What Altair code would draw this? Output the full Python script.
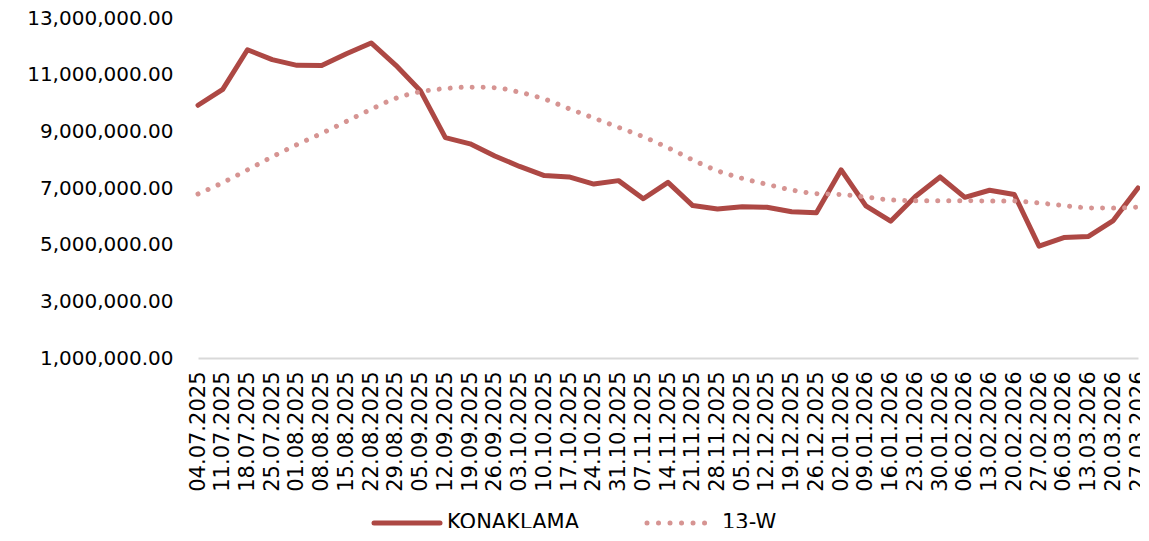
import altair as alt
import pandas as pd

dates = ["04.07.2025", "11.07.2025", "18.07.2025", "25.07.2025", "01.08.2025", "08.08.2025",
         "15.08.2025", "22.08.2025", "29.08.2025", "05.09.2025", "12.09.2025", "19.09.2025",
         "26.09.2025", "03.10.2025", "10.10.2025", "17.10.2025", "24.10.2025", "31.10.2025",
         "07.11.2025", "14.11.2025", "21.11.2025", "28.11.2025", "05.12.2025", "12.12.2025",
         "19.12.2025", "26.12.2025", "02.01.2026", "09.01.2026", "16.01.2026", "23.01.2026",
         "30.01.2026", "06.02.2026", "13.02.2026", "20.02.2026", "27.02.2026", "06.03.2026",
         "13.03.2026", "20.03.2026", "27.03.2026"]

konaklama = [9920000, 10480000, 11880000, 11530000, 11330000, 11320000, 11740000, 12120000,
             11330000, 10420000, 8780000, 8560000, 8130000, 7760000, 7440000, 7390000,
             7140000, 7260000, 6620000, 7200000, 6380000, 6260000, 6340000, 6320000,
             6160000, 6130000, 7640000, 6370000, 5830000, 6700000, 7390000, 6670000,
             6920000, 6770000, 4950000, 5250000, 5290000, 5850000, 7000000]

w13 = [6790000, 7190000, 7640000, 8100000, 8530000, 8930000, 9350000, 9780000,
       10170000, 10400000, 10510000, 10560000, 10540000, 10380000, 10140000, 9800000,
       9470000, 9140000, 8810000, 8420000, 7990000, 7610000, 7340000, 7130000,
       6930000, 6800000, 6770000, 6680000, 6580000, 6550000, 6550000, 6550000,
       6540000, 6540000, 6470000, 6380000, 6300000, 6290000, 6330000]

y_ticks = [1000000, 3000000, 5000000, 7000000, 9000000, 11000000, 13000000]

FONT = "DejaVu Sans"
SOLID = "#AD4844"
DOTTED = "#D69492"

df = pd.DataFrame({"date": dates, "konaklama": konaklama, "w13": w13})

x_enc = alt.X(
    "date:O", sort=None,
    scale=alt.Scale(type="point", padding=0),
    axis=alt.Axis(title=None, labelAngle=270, labelFont=FONT, labelFontSize=21,
                  labelColor="#000000", labelPadding=13, ticks=False,
                  domainColor="#D9D9D9", domainWidth=2, labelOverlap=False,
                  labelBound=False),
)
y_scale = alt.Scale(domain=[1000000, 13000000], nice=False, zero=False)
y_axis = alt.Axis(title=None, values=y_ticks, format=",.2f", labelFont=FONT,
                  labelFontSize=20, labelColor="#000000", labelPadding=25,
                  ticks=False, domain=False, grid=False)

base = alt.Chart(df)

solid = base.mark_line(color=SOLID, strokeWidth=5, strokeJoin="round", strokeCap="round").encode(
    x=x_enc,
    y=alt.Y("konaklama:Q", scale=y_scale, axis=y_axis),
)

dotted = base.mark_line(color=DOTTED, strokeWidth=5, strokeDash=[0.01, 11],
                        strokeCap="round", interpolate="monotone").encode(
    x=x_enc,
    y=alt.Y("w13:Q", scale=y_scale),
)

dummy = alt.Chart(pd.DataFrame({"k": [0]}))
leg_y = 505
leg_solid = dummy.mark_rule(color=SOLID, strokeWidth=5, strokeCap="round").encode(
    x=alt.value(176), x2=alt.value(242), y=alt.value(leg_y))
leg_solid_txt = dummy.mark_text(align="left", baseline="middle", font=FONT, fontSize=21,
                                color="#000000", text="KONAKLAMA").encode(
    x=alt.value(249), y=alt.value(leg_y))
leg_dot = dummy.mark_rule(color=DOTTED, strokeWidth=5, strokeCap="round",
                          strokeDash=[0.01, 11.5]).encode(
    x=alt.value(449), x2=alt.value(510), y=alt.value(leg_y))
leg_dot_txt = dummy.mark_text(align="left", baseline="middle", font=FONT, fontSize=21,
                              color="#000000", text="13-W").encode(
    x=alt.value(524), y=alt.value(leg_y))

chart = alt.layer(solid, dotted, leg_solid, leg_solid_txt, leg_dot, leg_dot_txt).properties(
    width=940, height=340,
    autosize=alt.AutoSizeParams(type="none"),
    padding={"left": 190, "top": 10, "right": 2, "bottom": 170},
).configure(background="#FFFFFF").configure_view(stroke=None)

chart.save("out.html", embed_options={"renderer": "svg", "actions": False})
